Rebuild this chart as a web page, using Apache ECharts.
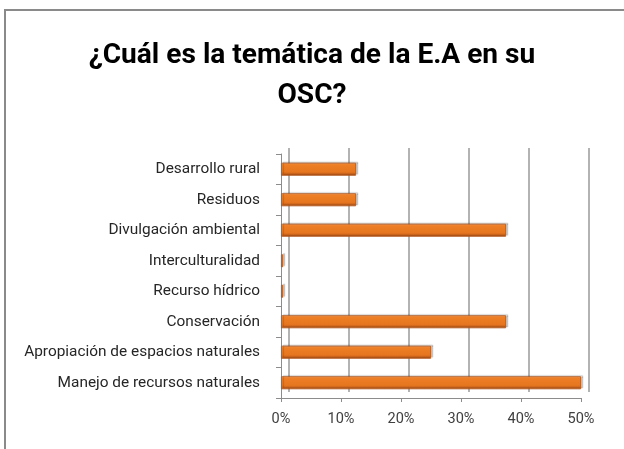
<!DOCTYPE html>
<html><head><meta charset="utf-8">
<script src="https://cdn.jsdelivr.net/npm/echarts@6/dist/echarts.min.js"></script>
<style>html,body{margin:0;padding:0;background:#fff}#c{width:624px;height:449px}</style>
</head><body><div id="c"></div>
<script>
const titleLines = ['¿Cuál es la temática de la E.A en su', 'OSC?'];
// bottom to top
const categories = ['Manejo de recursos naturales','Apropiación de espacios naturales','Conservación','Recurso hídrico','Interculturalidad','Divulgación ambiental','Residuos','Desarrollo rural'];
const values = [50, 25, 37.5, 0, 0, 37.5, 12.5, 12.5];
const tickMax = 50, tickStep = 10;

const font = 'Roboto, "Open Sans", sans-serif';
function fit(text, weight, target) {
  const ctx = document.createElement('canvas').getContext('2d');
  ctx.font = weight + ' 100px ' + font;
  return Math.round(100 * target / ctx.measureText(text).width * 10) / 10;
}
const titleSize = fit(titleLines[0], 'bold', 447);
const labelSize = fit(categories[1], 'normal', 236);

const chart = echarts.init(document.getElementById('c'));
chart.setOption({
  animation: false,
  backgroundColor: '#fff',
  graphic: [{type:'rect', shape:{x:5,y:10,width:640,height:460}, style:{fill:'none', stroke:'#8a8a8a', lineWidth:2}, z:-1}],
  title: [
    {text: titleLines[0], left: 'center', top: 37, padding:[5,0,5,8], textStyle:{fontFamily:font, fontSize:titleSize, fontWeight:'bold', color:'#000'}},
    {text: titleLines[1], left: 'center', top: 77, padding:[5,0,5,2], textStyle:{fontFamily:font, fontSize:titleSize, fontWeight:'bold', color:'#000'}}
  ],
  grid: [
    {left: 281, right: 43, top: 154, bottom: 51},
    {left: 289, right: 35, top: 148, bottom: 57}
  ],
  xAxis: [
    {gridIndex:0, type:'value', min:0, max:tickMax, interval:tickStep,
     axisLine:{show:true, lineStyle:{color:'#8c8c8c'}}, axisTick:{show:true, length:4, lineStyle:{color:'#8c8c8c'}},
     splitLine:{show:false},
     axisLabel:{formatter:'{value}%', fontFamily:font, fontSize:14.5, color:'#404040', margin:14}},
    {gridIndex:1, type:'value', min:0, max:tickMax, interval:tickStep,
     axisLine:{show:false}, axisTick:{show:false}, axisLabel:{show:false},
     splitLine:{show:true, lineStyle:{color:'#9a9a9a', width:1.5}}}
  ],
  yAxis: [
    {gridIndex:0, type:'category', data:categories,
     axisLine:{show:true, lineStyle:{color:'#8c8c8c'}}, axisTick:{show:true, length:5, lineStyle:{color:'#8c8c8c'}},
     axisLabel:{fontFamily:font, fontSize:labelSize, color:'#262626', margin:21}},
    {gridIndex:1, type:'category', data:categories, show:false}
  ],
  series: [{
    type:'bar', xAxisIndex:0, yAxisIndex:0, data:values, barWidth:13, barMinHeight:2,
    itemStyle:{
      color:{type:'linear', x:0, y:0, x2:0, y2:1, colorStops:[{offset:0,color:'#f5a060'},{offset:0.15,color:'#ee7f26'},{offset:0.7,color:'#e6761f'},{offset:1,color:'#b9561a'}]},
      borderColor:'#b0561a', borderWidth:0.8,
      shadowColor:'rgba(0,0,0,0.22)', shadowOffsetX:2, shadowOffsetY:-1, shadowBlur:1
    }
  }]
});
</script></body></html>
